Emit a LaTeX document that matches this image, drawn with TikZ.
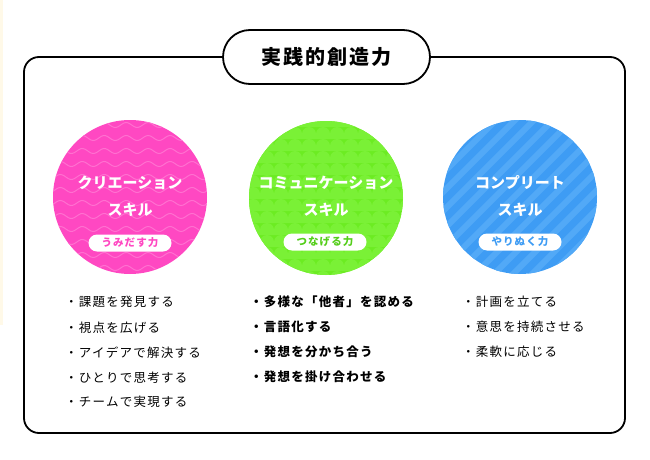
\documentclass[tikz,border=0pt]{standalone}
\usepackage{fontspec}
\setmainfont{Noto Sans CJK JP}
\newfontfamily\jpwide[LetterSpace=10]{Noto Sans CJK JP}
\usetikzlibrary{positioning}
\definecolor{pinkc}{RGB}{255,72,194}
\definecolor{pinkl}{RGB}{255,112,208}
\definecolor{greenc}{RGB}{108,236,34}
\definecolor{greenl}{RGB}{122,241,54}
\definecolor{greend}{RGB}{84,206,26}
\definecolor{bluec}{RGB}{62,156,244}
\definecolor{bluel}{RGB}{82,169,247}
\definecolor{cream}{RGB}{255,249,232}

\begin{document}
\begin{tikzpicture}
[x=1pt,y=-1pt,
 frame/.style={draw=black,line width=1.8pt,rounded corners=15pt},
 titlebox/.style={draw=black,line width=1.8pt,fill=white,rounded corners=27pt,
   minimum width=207pt,minimum height=54pt,
   font=\jpwide\fontsize{20}{24}\selectfont\bfseries},
 skill/.style={circle,inner sep=0pt,minimum size=154pt},
 skilltext/.style={align=center,text=white,
   font=\fontsize{15}{27}\selectfont\bfseries},
 pill/.style={fill=white,rounded corners=8.5pt,inner sep=0pt,
   minimum width=83pt,minimum height=17pt,
   font=\jpwide\fontsize{10.5}{12}\selectfont\bfseries},
 item/.style={anchor=west,inner sep=0pt,font=\jpwide\fontsize{12.5}{14}\selectfont},
 itembold/.style={item,font=\jpwide\fontsize{12.5}{14}\selectfont\bfseries},
 pinkwave/.style={draw=pinkl,line width=1pt},
 greenbump/.style={fill=greenl},
 bluestripe/.style={draw=bluel,line width=6pt}]
\useasboundingbox (0,0) rectangle (650,460);
\fill[cream] (0,0) rectangle (3,325);

\draw[frame] (24,57) rectangle (625,433);
\node[titlebox] (title) at (326.5,57) {実践的創造力};

\node[skill,fill=pinkc] (create) at (130,197) {};
\node[skill,fill=greenc] (comm) at (326,198) {};
\node[skill,fill=bluec] (comp) at (520,197) {};

\begin{scope}
\clip (create.center) circle (77);
\foreach \r in {0,...,13}
  \draw[pinkwave] plot[domain=50:212,samples=80] (\x,{112+13*\r+2.5*sin(16.4*\x)});
\end{scope}
\begin{scope}
\clip (comm.center) circle (77);
\foreach \r in {0,...,13}
  \foreach \c in {0,...,11}
    \fill[greenbump] ({246+14*\c},{122+12*\r}) arc[start angle=180,end angle=360,radius=7]
      -- ++(0,5) -- ++(-14,0) -- cycle;
\end{scope}
\begin{scope}
\clip (comp.center) circle (77);
\foreach \s in {0,...,22}
  \draw[bluestripe] ({250+19*\s},290) -- ++(200,-200);
\end{scope}

\node[skilltext] (createT) at (130,196.5) {クリエーション\\スキル};
\node[skilltext] (commT) at (326,196.5) {コミュニケーション\\スキル};
\node[skilltext] (compT) at (520,196.5) {コンプリート\\スキル};

\node[pill,text=pinkc] (createP) at (130,243) {うみだす力};
\node[pill,text=greend] (commP) at (325,242) {つなげる力};
\node[pill,text=bluec] (compP) at (520,242) {やりぬく力};

\node[item] (c1) at (65,302) {・課題を発見する};
\node[item] (c2) at (65,328) {・視点を広げる};
\node[item] (c3) at (65,353) {・アイデアで解決する};
\node[item] (c4) at (65,378) {・ひとりで思考する};
\node[item] (c5) at (65,402) {・チームで実現する};

\node[itembold] (m1) at (250,302) {・多様な「他者」を認める};
\node[itembold] (m2) at (250,327) {・言語化する};
\node[itembold] (m3) at (250,352) {・発想を分かち合う};
\node[itembold] (m4) at (250,377) {・発想を掛け合わせる};

\node[item] (p1) at (462,302) {・計画を立てる};
\node[item] (p2) at (462,327) {・意思を持続させる};
\node[item] (p3) at (462,352) {・柔軟に応じる};
\end{tikzpicture}
\end{document}
